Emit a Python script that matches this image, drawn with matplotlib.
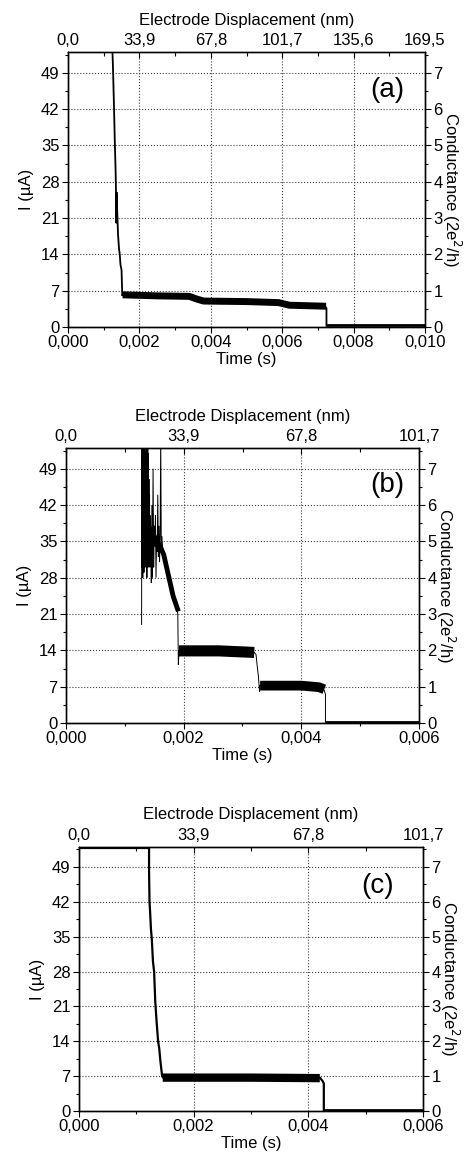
import numpy as np
import matplotlib
matplotlib.use('Agg')
import matplotlib.pyplot as plt
from matplotlib.ticker import MultipleLocator

plt.rcParams['font.family'] = ['Liberation Sans', 'DejaVu Sans']
plt.rcParams['font.size'] = 12

CURRENT_PER_G0 = 7.0    # uA for one 2e^2/h
NM_PER_S = 16950.0      # electrode displacement (nm) per second of time

# ---------------- panel (a) ----------------
t_a = [0.001243, 0.00126, 0.00129, 0.00131, 0.00133, 0.00134, 0.001355, 0.00136, 0.00138,
       0.00140, 0.00143, 0.00145, 0.00147, 0.00150, 0.00152, 0.00154, 0.0025, 0.0034,
       0.0036, 0.0038, 0.0050, 0.0059, 0.0062, 0.0072, 0.00724, 0.00724]
i_a = [53.5, 50, 42, 36, 31, 28, 20, 26, 22,
       18, 15, 14, 12, 11, 6.0, 6.3, 6.0, 5.9,
       5.4, 5.0, 4.9, 4.7, 4.2, 4.0, 3.6, 0.25]
t_a_band = [0.00153, 0.0025, 0.0034, 0.0036, 0.0038, 0.0050, 0.0059, 0.0062, 0.00723]
i_a_band = [6.2, 6.0, 5.9, 5.4, 5.0, 4.9, 4.7, 4.2, 4.0]
t_a_tail = [0.00724, 0.0100]
i_a_tail = [0.3, 0.3]

# ---------------- panel (b) ----------------
t_b = [0.001285, 0.00129, 0.001295, 0.0013, 0.001305, 0.00131, 0.001315, 0.00132, 0.001325,
       0.00133, 0.001335, 0.00134, 0.001345, 0.00135, 0.001355, 0.00136, 0.001365, 0.00137,
       0.001375, 0.00138, 0.001385, 0.00139, 0.001395, 0.0014, 0.001405, 0.00141, 0.001415,
       0.00142, 0.001425, 0.00143, 0.00144, 0.00145, 0.00146, 0.00147, 0.00148, 0.00149,
       0.0015, 0.00151, 0.00152, 0.00153, 0.00154, 0.00155, 0.00156, 0.00157, 0.00158,
       0.00159, 0.0016, 0.00161, 0.00162, 0.00163, 0.00164, 0.00166, 0.00168, 0.0017,
       0.00173, 0.00176, 0.00179, 0.00182, 0.00185, 0.00188, 0.0019, 0.00191, 0.00192,
       0.0026, 0.0032, 0.00323, 0.00325, 0.00327, 0.00329, 0.0033, 0.0040, 0.0043,
       0.00439, 0.00441, 0.00441]
i_b = [19, 55, 30, 55, 28, 55, 32, 55, 29,
       55, 35, 55, 30, 55, 38, 55, 33, 55,
       28, 50, 35, 55, 30, 52, 31, 47, 34,
       44, 30, 40, 36, 27, 42, 28, 49, 30,
       38, 34, 40, 28, 36, 33, 44, 32, 38,
       31, 36, 55, 33, 36, 34, 33, 31, 30,
       29, 27, 25.5, 24.5, 23.5, 22.5, 21, 11.2, 14.0,
       13.9, 13.6, 13.2, 11, 9, 6, 7.3, 7.2, 6.9,
       6.3, 5.5, 0.1]
t_b_slope = [0.00140, 0.00150, 0.00160, 0.00166, 0.00170, 0.00176, 0.00182, 0.00188, 0.00191]
i_b_slope = [38, 36, 34, 32.5, 30.5, 27.5, 24.5, 22.5, 21.5]
t_b_band14 = [0.00192, 0.0026, 0.0032]
i_b_band14 = [13.9, 13.9, 13.6]
t_b_band7 = [0.0033, 0.0040, 0.0043, 0.00439]
i_b_band7 = [7.2, 7.2, 6.9, 6.5]
t_b_tail = [0.00441, 0.0060]
i_b_tail = [0.15, 0.15]

# ---------------- panel (c) ----------------
t_c = [0.0, 0.001222, 0.001222, 0.00123, 0.00124, 0.001255, 0.00127, 0.00129, 0.00131,
       0.00133, 0.001356, 0.00138, 0.0014, 0.00142, 0.00145, 0.00147, 0.0042, 0.00425,
       0.00427, 0.00427]
i_c = [52.8, 52.8, 48, 42, 40, 36.5, 34.5, 30, 28,
       22, 17.5, 14, 12.5, 10, 7.0, 6.7, 6.7, 6.0,
       5.5, 0.15]
t_c_band = [0.00146, 0.0030, 0.0042]
i_c_band = [6.7, 6.7, 6.6]
t_c_tail = [0.00427, 0.0060]
i_c_tail = [0.15, 0.15]

# tick labels
time_labels_a = ['0,000', '0,002', '0,004', '0,006', '0,008', '0,010']
disp_labels_a = ['0,0', '33,9', '67,8', '101,7', '135,6', '169,5']
time_labels_bc = ['0,000', '0,002', '0,004', '0,006']
disp_labels_bc = ['0,0', '33,9', '67,8', '101,7']
current_ticks = [0, 7, 14, 21, 28, 35, 42, 49]
g_ticks = [0, 1, 2, 3, 4, 5, 6, 7]

fig = plt.figure(figsize=(4.68, 11.55), dpi=100)

panels = [
    # rect, xmax, time labels, disp labels, letter, letter pos, trace, thick parts
    ([68/468, 1-327/1155, 357/468, 275/1155], 0.010, time_labels_a, disp_labels_a, '(a)', (0.894, 0.862),
     (t_a, i_a, 1.3), [(t_a_band, i_a_band, 5.0), (t_a_tail, i_a_tail, 2.0)]),
    ([66/468, 1-723/1155, 353/468, 275/1155], 0.006, time_labels_bc, disp_labels_bc, '(b)', (0.909, 0.866),
     (t_b, i_b, 0.7), [(t_b_slope, i_b_slope, 3.5), (t_b_band14, i_b_band14, 8.0),
                       (t_b_band7, i_b_band7, 7.0), (t_b_tail, i_b_tail, 2.0)]),
    ([79/468, 1-1111/1155, 344/468, 264/1155], 0.006, time_labels_bc, disp_labels_bc, '(c)', (0.869, 0.852),
     (t_c, i_c, 1.6), [(t_c_band, i_c_band, 6.0), (t_c_tail, i_c_tail, 2.0)]),
]

for rect, xmax, tlabels, dlabels, letter, lpos, trace, bands in panels:
    ax = fig.add_axes(rect)
    ax.set_xlim(0, xmax)
    ax.set_ylim(0, 53)
    ax.plot(trace[0], trace[1], color='k', lw=trace[2], solid_joinstyle='miter')
    for tb, ib, lw in bands:
        ax.plot(tb, ib, color='k', lw=lw, solid_capstyle='butt')
    ax.set_xticks(np.linspace(0, xmax, len(tlabels)), tlabels)
    ax.set_yticks(current_ticks)
    ax.xaxis.set_minor_locator(MultipleLocator(0.001))
    ax.yaxis.set_minor_locator(MultipleLocator(3.5))
    ax.tick_params(which='both', direction='out', top=False, right=False, width=0.8)
    ax.tick_params(which='major', length=4, pad=2)
    ax.tick_params(which='minor', length=2)
    ax.grid(True, which='major', linestyle=':', color='0.25', lw=0.8)
    ax.set_xlabel('Time (s)', labelpad=1)
    ax.set_ylabel('I (µA)', labelpad=5)
    ax.text(lpos[0], lpos[1], letter, transform=ax.transAxes, fontsize=20,
            ha='center', va='center')

    axr = ax.twinx()
    axr.set_ylim(0, 53 / CURRENT_PER_G0)
    axr.set_yticks(g_ticks)
    axr.yaxis.set_minor_locator(MultipleLocator(0.5))
    axr.tick_params(which='both', direction='out', width=0.8)
    axr.tick_params(which='major', length=4, pad=2)
    axr.tick_params(which='minor', length=2)
    axr.set_ylabel('Conductance (2e$^2$/h)', rotation=270, labelpad=15)

    axt = ax.twiny()
    axt.set_xlim(0, xmax * NM_PER_S)
    axt.set_xticks(np.linspace(0, xmax * NM_PER_S, len(dlabels)), dlabels)
    axt.xaxis.set_minor_locator(MultipleLocator(0.001 * NM_PER_S))
    axt.tick_params(which='both', direction='in', width=0.8)
    axt.tick_params(which='major', length=4, pad=3)
    axt.tick_params(which='minor', length=3)
    axt.set_xlabel('Electrode Displacement (nm)', labelpad=6)

    for a in (ax, axr, axt):
        for s in a.spines.values():
            s.set_linewidth(0.9)

fig.savefig('out.png', dpi=100)
